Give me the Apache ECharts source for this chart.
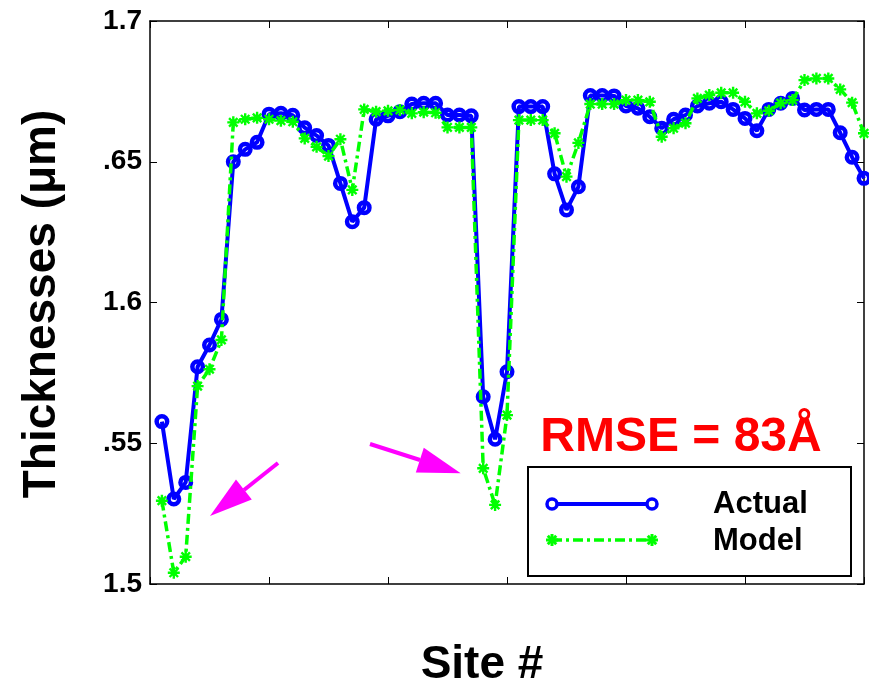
<!DOCTYPE html>
<html>
<head>
<meta charset="utf-8">
<script src="https://cdn.jsdelivr.net/npm/echarts@6/dist/echarts.min.js"></script>
<style>
html,body{margin:0;padding:0;background:#fff;}
#chart{width:869px;height:687px;}
</style>
</head>
<body>
<div id="chart"></div>
<script>
// ---- data ----
const sites = [1,2,3,4,5,6,7,8,9,10,11,12,13,14,15,16,17,18,19,20,21,22,23,24,25,26,27,28,29,30,
  31,32,33,34,35,36,37,38,39,40,41,42,43,44,45,46,47,48,49,50,51,52,53,54,55,56,57,58,59,60];
const actual = [1.5577,1.5302,1.5361,1.5772,1.5849,1.5940,1.6500,1.6544,1.6569,1.6669,
  1.6672,1.6665,1.6621,1.6593,1.6558,1.6423,1.6287,1.6337,1.6651,1.6663,
  1.6678,1.6705,1.6708,1.6708,1.6666,1.6666,1.6663,1.5665,1.5514,1.5754,
  1.6696,1.6696,1.6696,1.6457,1.6329,1.6411,1.6735,1.6735,1.6734,1.6698,
  1.6690,1.6660,1.6619,1.6651,1.6666,1.6698,1.6708,1.6713,1.6686,1.6654,
  1.6610,1.6686,1.6708,1.6725,1.6684,1.6686,1.6686,1.6603,1.6516,1.6441];
const model = [1.5296,1.5040,1.5097,1.5703,1.5763,1.5867,1.6640,1.6651,1.6656,1.6651,
  1.6646,1.6642,1.6583,1.6553,1.6520,1.6580,1.6400,1.6686,1.6678,1.6681,
  1.6684,1.6672,1.6676,1.6674,1.6622,1.6622,1.6622,1.5411,1.5281,1.5600,
  1.6648,1.6648,1.6648,1.6601,1.6447,1.6567,1.6705,1.6705,1.6705,1.6719,
  1.6719,1.6713,1.6589,1.6619,1.6637,1.6725,1.6737,1.6745,1.6745,1.6713,
  1.6672,1.6681,1.6708,1.6719,1.6790,1.6796,1.6796,1.6757,1.6710,1.6601];
const yTicks = [1.5, 1.55, 1.6, 1.65, 1.7];
const yTickLabels = ['1.5', '.55', '1.6', '.65', '1.7'];
const seriesNames = ['Actual', 'Model'];
const yTitle = 'Thicknesses (\u03bcm)';
const xTitle = 'Site #';
const note = 'RMSE = 83\u00c5';

// ---- chart ----
const FONT = "'Liberation Sans', Arial, Helvetica, sans-serif";
const chart = echarts.init(document.getElementById('chart'), null, {renderer: 'canvas'});
const asterisk = 'path://M0 8H20V12H0Z M8 0H12V20H8Z M4.34 1.52L18.48 15.66L15.66 18.48L1.52 4.34Z M15.66 1.52L18.48 4.34L4.34 18.48L1.52 15.66Z';
const BLUE = '#0000ff', GREEN = '#00ff00', MAG = '#ff00ff';
const dashDot = [10, 4, 3, 4];

function axisCommon(extra) {
  return Object.assign({
    axisLine: {show: true, onZero: false, lineStyle: {color: '#000', width: 1.5}},
    axisTick: {show: true, inside: true, length: 7, lineStyle: {color: '#000', width: 1}},
    splitLine: {show: false}
  }, extra);
}

function star(cx, cy) {
  const r = 6, d = r * Math.SQRT1_2;
  const segs = [[-r,0,r,0],[0,-r,0,r],[-d,-d,d,d],[-d,d,d,-d]];
  return segs.map(s => ({type: 'line', z: 23, shape: {x1: cx+s[0], y1: cy+s[1], x2: cx+s[2], y2: cy+s[3]},
    style: {stroke: GREEN, lineWidth: 3}}));
}

const option = {
  animation: false,
  backgroundColor: '#fff',
  grid: {left: 150, right: 5, top: 21, bottom: 103, containLabel: false},
  xAxis: [
    axisCommon({type: 'value', min: 0, max: 60, interval: 10, position: 'bottom', axisLabel: {show: false}}),
    axisCommon({type: 'value', min: 0, max: 60, interval: 10, position: 'top', axisLabel: {show: false}})
  ],
  yAxis: [
    axisCommon({type: 'value', min: yTicks[0], max: yTicks[yTicks.length-1], interval: 0.05, position: 'left',
      axisLabel: {show: true, margin: 8, color: '#000', fontFamily: FONT, fontWeight: 'bold', fontSize: 28,
        formatter: v => { const k = yTicks.findIndex(t => Math.abs(t - v) < 1e-6); return k >= 0 ? yTickLabels[k] : ''; }}}),
    axisCommon({type: 'value', min: yTicks[0], max: yTicks[yTicks.length-1], interval: 0.05, position: 'right', axisLabel: {show: false}})
  ],
  series: [
    {
      name: seriesNames[0], type: 'line', clip: false, z: 2,
      data: sites.map((s, i) => [s, actual[i]]),
      symbol: 'circle', symbolSize: 10.5,
      itemStyle: {color: 'rgba(0,0,0,0)', borderColor: BLUE, borderWidth: 4.5},
      lineStyle: {color: BLUE, width: 4},
      emphasis: {disabled: true}
    },
    {
      name: seriesNames[1], type: 'line', clip: false, z: 3,
      data: sites.map((s, i) => [s, model[i]]),
      symbol: asterisk, symbolSize: 12,
      itemStyle: {color: GREEN},
      lineStyle: {color: GREEN, width: 3.5, type: dashDot},
      emphasis: {disabled: true}
    }
  ],
  graphic: [
    {type: 'text', x: 42, y: 304, rotation: Math.PI / 2, z: 10,
      style: {text: yTitle, fill: '#000', font: 'bold 46px ' + FONT, align: 'center', verticalAlign: 'middle'}},
    {type: 'text', x: 482, y: 665, z: 10,
      style: {text: xTitle, fill: '#000', font: 'bold 46px ' + FONT, align: 'center', verticalAlign: 'middle'}},
    {type: 'text', x: 681, y: 438, z: 10,
      style: {text: note, fill: '#ff0000', font: 'bold 48px ' + FONT, align: 'center', verticalAlign: 'middle'}},
    // legend
    {type: 'rect', z: 20, shape: {x: 528, y: 467, width: 323, height: 109},
      style: {fill: '#fff', stroke: '#000', lineWidth: 2}},
    {type: 'line', z: 21, shape: {x1: 552, y1: 504, x2: 652, y2: 504}, style: {stroke: BLUE, lineWidth: 4}},
    {type: 'circle', z: 22, shape: {cx: 552, cy: 504, r: 5}, style: {fill: '#fff', stroke: BLUE, lineWidth: 3.5}},
    {type: 'circle', z: 22, shape: {cx: 652, cy: 504, r: 5}, style: {fill: '#fff', stroke: BLUE, lineWidth: 3.5}},
    {type: 'line', z: 21, shape: {x1: 552, y1: 540, x2: 652, y2: 540}, style: {stroke: GREEN, lineWidth: 3.5, lineDash: dashDot}},
    ...star(552, 540),
    ...star(652, 540),
    {type: 'text', x: 713, y: 504, z: 22,
      style: {text: seriesNames[0], fill: '#000', font: 'bold 31px ' + FONT, align: 'left', verticalAlign: 'middle'}},
    {type: 'text', x: 713, y: 541, z: 22,
      style: {text: seriesNames[1], fill: '#000', font: 'bold 31px ' + FONT, align: 'left', verticalAlign: 'middle'}},
    // arrows
    {type: 'line', z: 15, shape: {x1: 278, y1: 463, x2: 244, y2: 490}, style: {stroke: MAG, lineWidth: 4}},
    {type: 'polygon', z: 15, shape: {points: [[210, 516], [236, 479.4], [251.8, 499.6]]}, style: {fill: MAG}},
    {type: 'line', z: 15, shape: {x1: 370, y1: 444, x2: 420, y2: 460}, style: {stroke: MAG, lineWidth: 4}},
    {type: 'polygon', z: 15, shape: {points: [[460.7, 473.3], [423.8, 447.8], [415.8, 472.4]]}, style: {fill: MAG}}
  ]
};
chart.setOption(option);
</script>
</body>
</html>
